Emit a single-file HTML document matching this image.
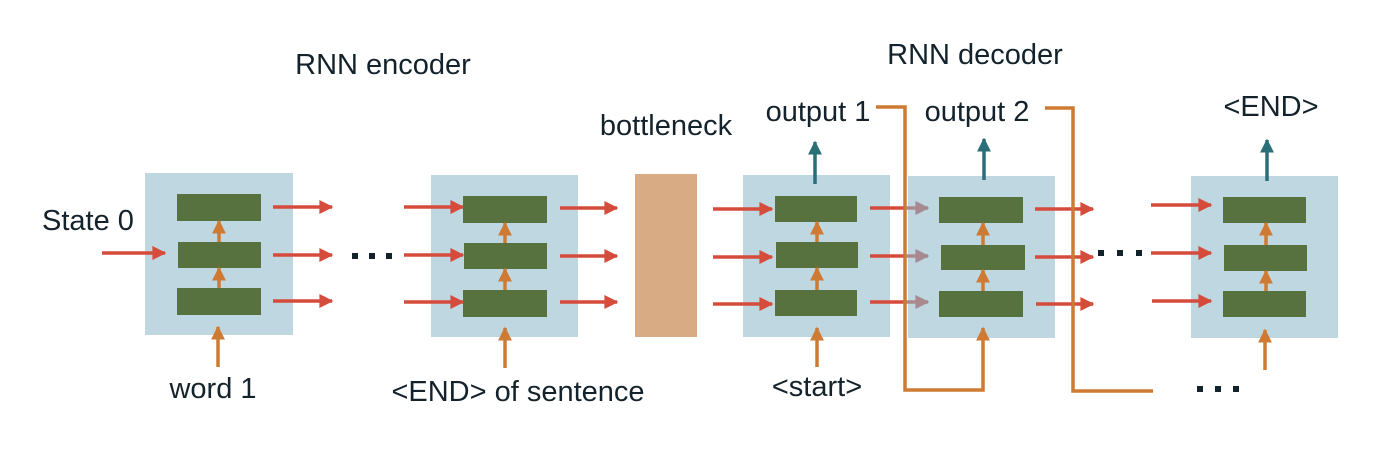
<!DOCTYPE html>
<html><head><style>body{margin:0;background:#fff}svg{display:block}text{font-family:"Liberation Sans",Arial,sans-serif;fill:#14232b;font-size:29px}</style></head><body>
<svg width="1392" height="450" viewBox="0 0 1392 450" xmlns="http://www.w3.org/2000/svg">
<defs>
<marker id="r" viewBox="0 0 10 10" refX="9" refY="5" markerWidth="4.2" markerHeight="4" orient="auto"><path d="M0,0L10,5L0,10z" fill="#d54c3c"/></marker>
<marker id="g" viewBox="0 0 10 10" refX="9" refY="5" markerWidth="4.2" markerHeight="4" orient="auto"><path d="M0,0L10,5L0,10z" fill="#a88a8e"/></marker>
<marker id="o" viewBox="0 0 10 10" refX="9" refY="5" markerWidth="4" markerHeight="4" orient="auto"><path d="M0,0L10,5L0,10z" fill="#cf7a32"/></marker>
<marker id="t" viewBox="0 0 10 10" refX="9" refY="5" markerWidth="4" markerHeight="4" orient="auto"><path d="M0,0L10,5L0,10z" fill="#2a6e78"/></marker>
</defs>
<g fill="#bed7e1">
<rect x="145" y="173" width="148" height="162"/>
<rect x="431" y="175" width="147" height="162"/>
<rect x="743" y="175" width="147" height="162"/>
<rect x="908" y="176" width="147" height="162"/>
<rect x="1191" y="176" width="147" height="162"/>
</g>
<rect x="635" y="174" width="62" height="163" fill="#d8ab85"/>
<g fill="#57723e">
<rect x="177" y="194" width="84" height="27"/><rect x="178" y="242" width="83" height="26"/><rect x="177" y="288" width="84" height="27"/>
<rect x="463" y="196" width="84" height="27"/><rect x="464" y="243" width="83" height="26"/><rect x="463" y="290" width="84" height="27"/>
<rect x="775" y="196" width="82" height="26"/><rect x="776" y="242" width="82" height="26"/><rect x="775" y="290" width="82" height="26"/>
<rect x="939" y="197" width="84" height="26"/><rect x="941" y="245" width="84" height="25"/><rect x="939" y="291" width="84" height="26"/>
<rect x="1223" y="197" width="83" height="26"/><rect x="1224" y="245" width="83" height="26"/><rect x="1223" y="291" width="83" height="26"/>
</g>
<g stroke="#d54c3c" stroke-width="3.5" marker-end="url(#r)">
<line x1="102" y1="253" x2="165" y2="253"/>
<line x1="273" y1="207" x2="332" y2="207"/><line x1="273" y1="255" x2="332" y2="255"/><line x1="273" y1="301" x2="332" y2="301"/>
<line x1="404" y1="207" x2="463" y2="207"/><line x1="404" y1="255" x2="463" y2="255"/><line x1="404" y1="302" x2="463" y2="302"/>
<line x1="560" y1="208" x2="617" y2="208"/><line x1="560" y1="256" x2="617" y2="256"/><line x1="560" y1="302" x2="617" y2="302"/>
<line x1="713" y1="209" x2="772" y2="209"/><line x1="713" y1="257" x2="772" y2="257"/><line x1="713" y1="304" x2="772" y2="304"/>
<line x1="1035" y1="209" x2="1093" y2="209"/><line x1="1035" y1="257" x2="1093" y2="257"/><line x1="1036" y1="304" x2="1093" y2="304"/>
<line x1="1151" y1="205" x2="1211" y2="205"/><line x1="1151" y1="253" x2="1211" y2="253"/><line x1="1152" y1="301" x2="1211" y2="301"/>
</g>
<g stroke="#d54c3c" stroke-width="3.5"><line x1="870" y1="208" x2="905" y2="208"/><line x1="870" y1="256" x2="905" y2="256"/><line x1="870" y1="302" x2="905" y2="302"/></g>
<g stroke="#a88a8e" stroke-width="3.5" marker-end="url(#g)"><line x1="905" y1="208" x2="928" y2="208"/><line x1="905" y1="256" x2="928" y2="256"/><line x1="905" y1="302" x2="928" y2="302"/></g>
<g stroke="#cf7a32" stroke-width="3.5" marker-end="url(#o)">
<line x1="219" y1="242" x2="219" y2="221"/><line x1="219" y1="288" x2="219" y2="268"/><line x1="218" y1="367" x2="218" y2="327"/>
<line x1="505" y1="243" x2="505" y2="223"/><line x1="505" y1="290" x2="505" y2="269"/><line x1="505" y1="368" x2="505" y2="328"/>
<line x1="817" y1="242" x2="817" y2="222"/><line x1="817" y1="290" x2="817" y2="268"/><line x1="817" y1="367" x2="817" y2="328"/>
<line x1="983" y1="245" x2="983" y2="223"/><line x1="983" y1="291" x2="983" y2="270"/>
<line x1="1266" y1="245" x2="1266" y2="223"/><line x1="1266" y1="291" x2="1266" y2="271"/><line x1="1265" y1="370" x2="1265" y2="330"/>
</g>
<g fill="none" stroke="#cf7a32" stroke-width="3.5">
<polyline points="876,107 905,107 905,390 983,390 983,328" marker-end="url(#o)"/>
<polyline points="1045,108 1073,108 1073,391 1153,391"/>
</g>
<g stroke="#2a6e78" stroke-width="3.5" marker-end="url(#t)">
<line x1="815" y1="184" x2="815" y2="142"/><line x1="984" y1="180" x2="984" y2="139"/><line x1="1267" y1="181" x2="1267" y2="140"/>
</g>
<g fill="#14232b">
<rect x="352" y="253" width="6" height="6"/><rect x="369" y="253" width="6" height="6"/><rect x="386" y="253" width="6" height="6"/>
<rect x="1098" y="250" width="6" height="6"/><rect x="1117" y="250" width="6" height="6"/><rect x="1136" y="250" width="6" height="6"/>
<rect x="1197" y="386" width="6" height="6"/><rect x="1215" y="386" width="6" height="6"/><rect x="1233" y="386" width="6" height="6"/>
</g>
<text x="383" y="74" text-anchor="middle">RNN encoder</text>
<text x="975" y="64" text-anchor="middle">RNN decoder</text>
<text x="666" y="135" text-anchor="middle">bottleneck</text>
<text x="818" y="121" text-anchor="middle">output 1</text>
<text x="977" y="121" text-anchor="middle">output 2</text>
<text x="1271" y="116" text-anchor="middle">&lt;END&gt;</text>
<text x="42" y="230">State 0</text>
<text x="213" y="398" text-anchor="middle">word 1</text>
<text x="518" y="401" text-anchor="middle">&lt;END&gt; of sentence</text>
<text x="817" y="396" text-anchor="middle">&lt;start&gt;</text>
</svg>
</body></html>
